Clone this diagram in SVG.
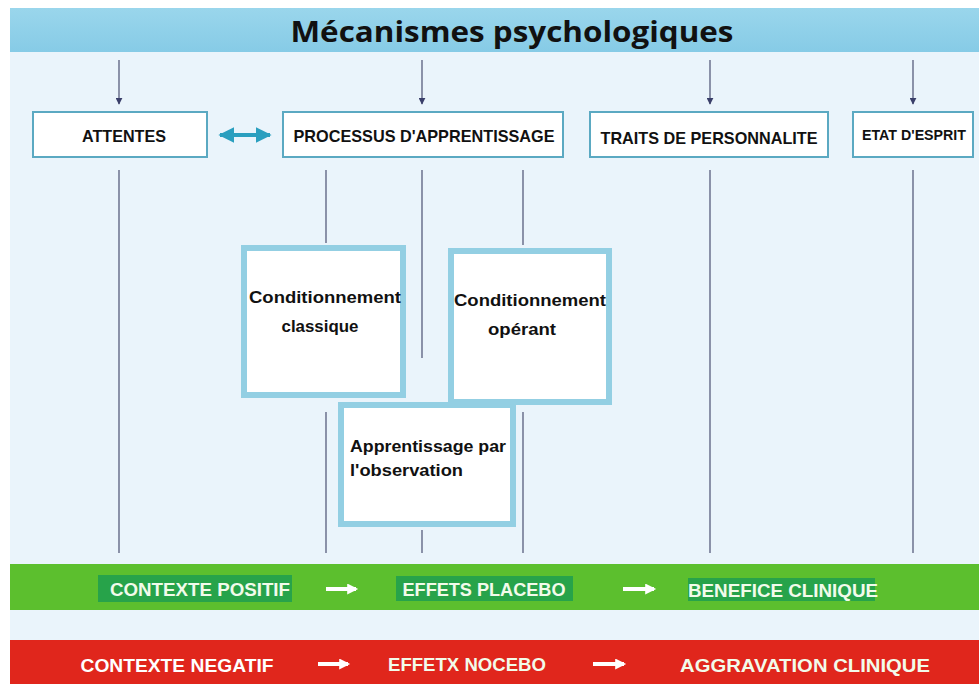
<svg xmlns="http://www.w3.org/2000/svg" width="979" height="684" viewBox="0 0 979 684">
<style>
.bx{fill:#ffffff;stroke:#5ba9c2;stroke-width:2}
.sb{fill:#ffffff;stroke:#93cfe3;stroke-width:6}
.bt{font-family:"Liberation Sans",Arial,sans-serif;font-weight:bold;font-size:17px;fill:#111111}
.bs{font-family:"Liberation Sans",Arial,sans-serif;font-weight:bold;font-size:14px;fill:#111111}
.st{font-family:"Liberation Sans",Arial,sans-serif;font-weight:bold;font-size:17px;fill:#111111}
.wt{font-family:"Liberation Sans",Arial,sans-serif;font-weight:bold;font-size:19px;fill:#f2fbea}
.vl{stroke:#4a4f72;stroke-width:1.2;fill:none}
.wa{stroke:#ffffff;stroke-width:4;fill:none}
</style>
<defs>
<marker id="ah" viewBox="0 0 10 10" refX="9" refY="5" markerWidth="7" markerHeight="7" markerUnits="userSpaceOnUse" orient="auto"><path d="M0,0 L10,5 L0,10 z" fill="#3a3f6a"/></marker>
<marker id="ta" viewBox="0 0 10 10" refX="9" refY="5" markerWidth="4" markerHeight="4" orient="auto-start-reverse"><path d="M0,0 L10,5 L0,10 z" fill="#2a9fbf"/></marker>
<marker id="wh" viewBox="0 0 10 10" refX="8" refY="5" markerWidth="12" markerHeight="11" markerUnits="userSpaceOnUse" orient="auto"><path d="M0,0 L10,5 L0,10 z" fill="#ffffff"/></marker>
<linearGradient id="tg" x1="0" y1="0" x2="0" y2="1"><stop offset="0" stop-color="#9ad6ec"/><stop offset="1" stop-color="#86cbe6"/></linearGradient>
</defs>
<rect x="0" y="0" width="979" height="684" fill="#ffffff"/>
<rect x="10" y="52" width="969" height="632" fill="#eaf4fb"/>
<g id="title">
<rect x="10" y="8" width="969" height="44" fill="url(#tg)"/>
<text x="512" y="42" text-anchor="middle" font-family="'Open Sans','Liberation Sans',sans-serif" font-weight="bold" font-size="29" fill="#111111" textLength="443" lengthAdjust="spacingAndGlyphs">Mécanismes psychologiques</text>
</g>
<g id="connectors">
<line class="vl" x1="119" y1="60" x2="119" y2="104" marker-end="url(#ah)"/>
<line class="vl" x1="422" y1="60" x2="422" y2="104" marker-end="url(#ah)"/>
<line class="vl" x1="710" y1="60" x2="710" y2="104" marker-end="url(#ah)"/>
<line class="vl" x1="913" y1="60" x2="913" y2="104" marker-end="url(#ah)"/>
<line x1="220" y1="135" x2="270" y2="135" stroke="#2a9fbf" stroke-width="4" marker-start="url(#ta)" marker-end="url(#ta)"/>
<line class="vl" x1="119" y1="170" x2="119" y2="553"/>
<line class="vl" x1="326" y1="170" x2="326" y2="243"/>
<line class="vl" x1="326" y1="412" x2="326" y2="553"/>
<line class="vl" x1="422" y1="170" x2="422" y2="358"/>
<line class="vl" x1="422" y1="530" x2="422" y2="553"/>
<line class="vl" x1="523" y1="170" x2="523" y2="245"/>
<line class="vl" x1="523" y1="412" x2="523" y2="553"/>
<line class="vl" x1="710" y1="170" x2="710" y2="553"/>
<line class="vl" x1="913" y1="170" x2="913" y2="553"/>
</g>
<g id="attentes">
<rect class="bx" x="33" y="112" width="174" height="45"/>
<text class="bt" x="124" y="142" text-anchor="middle" textLength="84" lengthAdjust="spacingAndGlyphs">ATTENTES</text>
</g>
<g id="processus">
<rect class="bx" x="283" y="112" width="280" height="45"/>
<text class="bt" x="424" y="142" text-anchor="middle" textLength="261" lengthAdjust="spacingAndGlyphs">PROCESSUS D'APPRENTISSAGE</text>
</g>
<g id="traits">
<rect class="bx" x="590" y="112" width="238" height="45"/>
<text class="bt" x="709" y="144" text-anchor="middle" textLength="217" lengthAdjust="spacingAndGlyphs">TRAITS DE PERSONNALITE</text>
</g>
<g id="etat">
<rect class="bx" x="853" y="112" width="120" height="45"/>
<text class="bs" x="914" y="140" text-anchor="middle" textLength="104" lengthAdjust="spacingAndGlyphs">ETAT D'ESPRIT</text>
</g>
<g id="classique">
<rect class="sb" x="244" y="248" width="159" height="147"/>
<text class="st" x="325" y="303" text-anchor="middle" textLength="152" lengthAdjust="spacingAndGlyphs">Conditionnement</text>
<text class="st" x="320" y="332" text-anchor="middle" textLength="77" lengthAdjust="spacingAndGlyphs">classique</text>
</g>
<g id="operant">
<rect class="sb" x="451" y="251" width="158" height="151"/>
<text class="st" x="530" y="306" text-anchor="middle" textLength="152" lengthAdjust="spacingAndGlyphs">Conditionnement</text>
<text class="st" x="522" y="335" text-anchor="middle" textLength="68" lengthAdjust="spacingAndGlyphs">opérant</text>
</g>
<g id="observation">
<rect class="sb" x="341" y="405" width="172" height="119"/>
<text class="st" x="350" y="452" textLength="156" lengthAdjust="spacingAndGlyphs">Apprentissage par</text>
<text class="st" x="350" y="476" textLength="113" lengthAdjust="spacingAndGlyphs">l'observation</text>
</g>
<g id="positif">
<rect x="10" y="564" width="969" height="46" fill="#5cbf2e"/>
<rect x="98" y="575" width="194" height="27" fill="#27a34a"/>
<rect x="396" y="576" width="177" height="25" fill="#27a34a"/>
<rect x="688" y="578" width="187" height="23" fill="#27a34a"/>
<text class="wt" x="110" y="596" textLength="180" lengthAdjust="spacingAndGlyphs">CONTEXTE POSITIF</text>
<text class="wt" x="484" y="596" text-anchor="middle" textLength="163" lengthAdjust="spacingAndGlyphs">EFFETS PLACEBO</text>
<text class="wt" x="688" y="597" textLength="190" lengthAdjust="spacingAndGlyphs">BENEFICE CLINIQUE</text>
<line class="wa" x1="326" y1="589" x2="356" y2="589" marker-end="url(#wh)"/>
<line class="wa" x1="623" y1="589" x2="654" y2="589" marker-end="url(#wh)"/>
</g>
<g id="negatif">
<rect x="10" y="640" width="969" height="44" fill="#e0261c"/>
<text class="wt" x="177" y="672" text-anchor="middle" style="fill:#ffffff" textLength="193" lengthAdjust="spacingAndGlyphs">CONTEXTE NEGATIF</text>
<text class="wt" x="467" y="671" text-anchor="middle" textLength="158" lengthAdjust="spacingAndGlyphs">EFFETX NOCEBO</text>
<text class="wt" x="805" y="672" text-anchor="middle" textLength="250" lengthAdjust="spacingAndGlyphs">AGGRAVATION CLINIQUE</text>
<line class="wa" x1="318" y1="664" x2="348" y2="664" marker-end="url(#wh)"/>
<line class="wa" x1="593" y1="664" x2="624" y2="664" marker-end="url(#wh)"/>
</g>
</svg>
